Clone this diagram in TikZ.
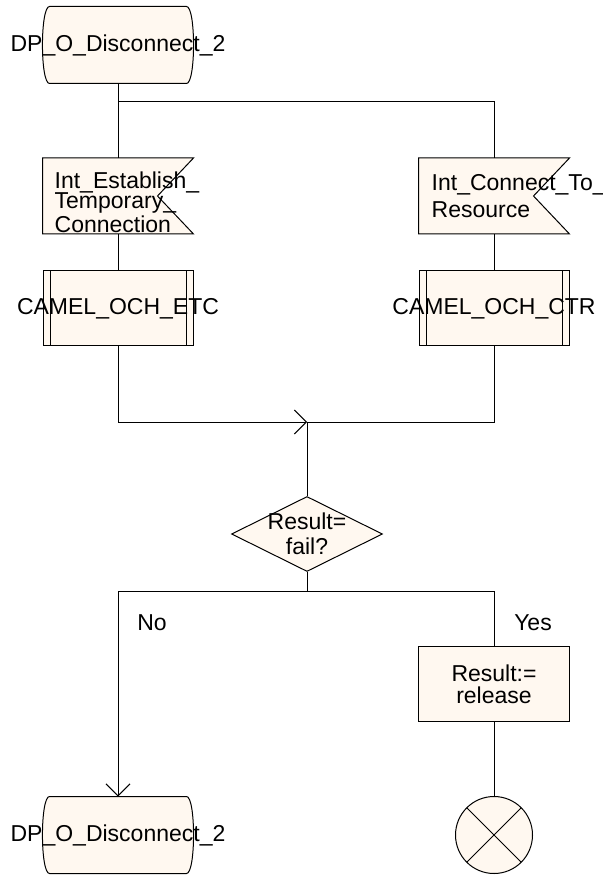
\documentclass[tikz,border=0pt]{standalone}
\usepackage{fontspec}
\setmainfont{Liberation Sans}
\usetikzlibrary{shapes.geometric,arrows.meta}
\definecolor{sdlfill}{RGB}{255,248,240}
\tikzset{
	sdl/.style={draw, fill=sdlfill, line width=0.5pt, inner sep=0pt},
	dpconn/.style={rectangle, inner sep=0pt, minimum width=75pt, minimum height=38pt,
		append after command={\pgfextra{
			\draw[fill=sdlfill] ([xshift=3.5pt]\tikzlastnode.north west) -- ([xshift=-3.5pt]\tikzlastnode.north east)
				.. controls ([xshift=1.2pt]\tikzlastnode.north east) and ([xshift=1.2pt]\tikzlastnode.south east) .. ([xshift=-3.5pt]\tikzlastnode.south east)
				-- ([xshift=3.5pt]\tikzlastnode.south west)
				.. controls ([xshift=-1.2pt]\tikzlastnode.south west) and ([xshift=-1.2pt]\tikzlastnode.north west) .. cycle;
		}}},
	inflag/.style={rectangle, inner sep=0pt, minimum width=75pt, minimum height=37.5pt,
		append after command={\pgfextra{
			\draw[fill=sdlfill] (\tikzlastnode.north west) -- (\tikzlastnode.north east)
				-- ([xshift=-18pt]\tikzlastnode.east) -- (\tikzlastnode.south east)
				-- (\tikzlastnode.south west) -- cycle;
		}}},
	procbox/.style={sdl, rectangle, minimum width=75pt, minimum height=37.5pt,
		path picture={
			\draw ([xshift=3.5pt]path picture bounding box.north west) -- ([xshift=3.5pt]path picture bounding box.south west);
			\draw ([xshift=-3.5pt]path picture bounding box.north east) -- ([xshift=-3.5pt]path picture bounding box.south east);
		}},
	taskbox/.style={sdl, rectangle, minimum width=75.5pt, minimum height=37.5pt, align=center},
	decision/.style={sdl, diamond, minimum width=75.5pt, minimum height=37.5pt},
	stopsym/.style={sdl, circle, minimum size=38.5pt,
		path picture={
			\draw (path picture bounding box.north west) -- (path picture bounding box.south east);
			\draw (path picture bounding box.north east) -- (path picture bounding box.south west);
		}},
	flowarrow/.style={-{Straight Barb[length=6pt,width=12pt]}}
}
\begin{document}
\begin{tikzpicture}[x=0.5pt, y=-0.5pt, line width=0.5pt, font=\fontsize{11.5}{12.5}\selectfont]
	\useasboundingbox (0,0) rectangle (603,881);

	\node[dpconn, label=center:{DP\_O\_Disconnect\_2}] (dpTop) at (118,45) {};

	\node[inflag, label={[anchor=west, align=left, xshift=2.5pt, yshift=-3pt, font=\fontsize{11.5}{10.3}\selectfont]west:Int\_Establish\_\\Temporary\_\\Connection}] (sigETC) at (118,196) {};
	\node[inflag, label={[anchor=west, align=left, xshift=3pt, font=\fontsize{11.5}{13.5}\selectfont]west:Int\_Connect\_To\_\\Resource}] (sigCTR) at (494,196) {};

	\node[procbox, label={[yshift=-0.5pt]center:CAMEL\_OCH\_ETC}] (procETC) at (118,308) {};
	\node[procbox, label={[yshift=-0.5pt]center:CAMEL\_OCH\_CTR}] (procCTR) at (494,308) {};

	\node[decision, label={[align=center]center:Result=\\fail?}] (result) at (307,534) {};

	\node[taskbox, font=\fontsize{11.5}{11}\selectfont] (release) at (494,684) {Result:=\\release};

	\node[dpconn, label=center:{DP\_O\_Disconnect\_2}] (dpEnd) at (118,835) {};
	\node[stopsym] (stop) at (494,835) {};

	\node (no) at (152,623) {No};
	\node (yes) at (533,623) {Yes};

	\coordinate (split) at (118,102);
	\coordinate (merge) at (307,422);
	\coordinate (branch) at (307,591);

	\draw (dpTop.south) -- (sigETC.north);
	\draw (split) -| (sigCTR.north);
	\draw (sigETC.south) -- (procETC.north);
	\draw (sigCTR.south) -- (procCTR.north);
	\draw[flowarrow] (procETC.south) |- (merge);
	\draw (procCTR.south) |- (merge);
	\draw (merge) -- (result.north);
	\draw (result.south) -- (branch);
	\draw[flowarrow] (branch) -| (dpEnd.north);
	\draw (branch) -| (release.north);
	\draw (release.south) -- (stop.north);
\end{tikzpicture}
\end{document}
